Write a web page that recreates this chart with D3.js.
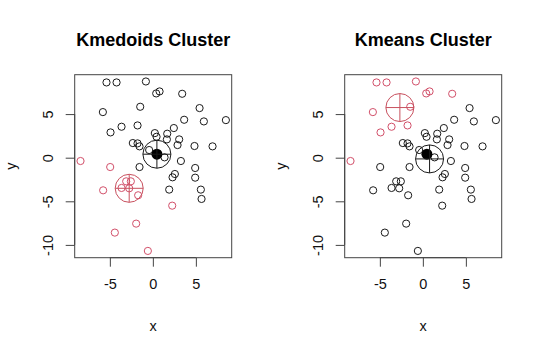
<!DOCTYPE html>
<html>
<head>
<meta charset="utf-8">
<script src="https://cdn.jsdelivr.net/npm/d3@7"></script>
<style>
  html, body { margin: 0; padding: 0; background: #fff; }
  svg { display: block; font-family: "Liberation Sans", Arial, Helvetica, sans-serif; }
</style>
</head>
<body>
<svg id="chart" width="540" height="351"></svg>
<script>
// ---- data ----
const xs = [-5.39,-4.22,-0.81,0.39,0.78,3.41,-5.81,-1.47,5.43,3.64,5.93,8.49,-4.92,-3.64,-1.78,2.44,0.23,0.43,1.67,1.63,3.06,2.87,-2.33,-1.78,-1.55,4.84,6.94,-0.43,1.36,3.26,-1.55,4.92,4.92,2.56,2.29,1.90,5.58,5.66,0.47,
            -8.41,-4.96,-5.78,-3.64,-3.10,-2.56,-2.75,-1.71,2.25,-1.94,-4.42,-0.58];
const ys = [8.63,8.63,8.74,7.37,7.60,7.33,5.23,5.84,5.69,4.35,4.16,4.31,2.90,3.55,3.70,3.40,2.82,2.40,2.75,2.10,2.10,1.45,1.68,1.64,1.30,1.34,1.30,0.88,0.04,-0.38,-1.07,-1.18,-2.29,-1.87,-2.25,-3.66,-3.66,-4.73,0.38,
            -0.38,-1.07,-3.74,-3.47,-2.71,-2.71,-3.51,-4.31,-5.50,-7.56,-8.59,-10.69];
// cluster labels: 1 = black, 2 = red
const kmedoidsCluster = [1,1,1,1,1,1,1,1,1,1,1,1,1,1,1,1,1,1,1,1,1,1,1,1,1,1,1,1,1,1,1,1,1,1,1,1,1,1,1,
                         2,2,2,2,2,2,2,2,2,2,2,2];
const kmeansCluster   = [2,2,2,2,2,2,2,2,1,1,1,1,2,2,2,1,1,1,1,1,1,1,1,1,1,1,1,1,1,1,1,1,1,1,1,1,1,1,1,
                         2,1,1,1,1,1,1,1,1,1,1,1];
const kmedoidsCenterX = [0.47, -2.75];
const kmedoidsCenterY = [0.40, -3.51];
const kmeansCenterX = [0.78, -2.67];
const kmeansCenterY = [-0.14, 5.75];
const filledX = [0.47];
const filledY = [0.40];
const titles = ["Kmedoids Cluster", "Kmeans Cluster"];
const xTicks = [-5, 0, 5];
const yTicks = [-10, -5, 0, 5];

const colors = {1: "#1a1a1a", 2: "#D2506A"};

// ---- layout ----
const svg = d3.select("#chart");
const panelLefts = [74.7, 344.7];
const plotTop = 74.7, plotW = 157, plotH = 183;

function padExtent(arr) {
  const [a, b] = d3.extent(arr);
  const p = (b - a) * 0.04;
  return [a - p, b + p];
}
const xDom = padExtent(xs), yDom = padExtent(ys);

const panels = [
  {title: titles[0], cl: kmedoidsCluster, cx: kmedoidsCenterX, cy: kmedoidsCenterY},
  {title: titles[1], cl: kmeansCluster, cx: kmeansCenterX, cy: kmeansCenterY}
];

panels.forEach((p, i) => {
  const left = panelLefts[i];
  const x = d3.scaleLinear().domain(xDom).range([left, left + plotW]);
  const y = d3.scaleLinear().domain(yDom).range([plotTop + plotH, plotTop]);
  const g = svg.append("g");

  // box
  g.append("rect").attr("x", left).attr("y", plotTop).attr("width", plotW).attr("height", plotH)
    .attr("fill", "none").attr("stroke", "#444").attr("stroke-width", 1);

  // x axis
  const xAx = g.append("g").attr("transform", `translate(0,${plotTop + plotH})`)
    .call(d3.axisBottom(x).tickValues(xTicks).tickSize(9).tickPadding(12).tickFormat(d3.format("d")));
  xAx.select(".domain").attr("d", `M${x(xTicks[0])},0H${x(xTicks[xTicks.length-1])}`).attr("stroke", "#444");
  xAx.selectAll(".tick line").attr("stroke", "#444");
  xAx.selectAll("text").attr("font-size", "14.5px").attr("fill", "#111")
     .attr("font-family", "Liberation Sans, Arial, sans-serif").text(d => d < 0 ? "-" + Math.abs(d) : d);

  // y axis
  const yAx = g.append("g").attr("transform", `translate(${left},0)`)
    .call(d3.axisLeft(y).tickValues(yTicks).tickSize(9).tickPadding(0).tickFormat(d3.format("d")));
  yAx.select(".domain").attr("d", `M0,${y(yTicks[0])}V${y(yTicks[yTicks.length-1])}`).attr("stroke", "#444");
  yAx.selectAll(".tick line").attr("stroke", "#444");
  yAx.selectAll("text").attr("font-size", "14.5px").attr("fill", "#111")
     .attr("font-family", "Liberation Sans, Arial, sans-serif")
     .attr("x", null).attr("dy", null)
     .attr("text-anchor", "middle")
     .attr("transform", `translate(-21.5,0) rotate(-90)`)
     .text(d => d < 0 ? "-" + Math.abs(d) : d);

  // axis titles
  g.append("text").attr("x", left + plotW / 2).attr("y", 331).attr("text-anchor", "middle")
    .attr("font-size", "14.5px").attr("fill", "#111").text("x");
  g.append("text").attr("transform", `translate(${left - 58.5},${plotTop + plotH / 2}) rotate(-90)`)
    .attr("text-anchor", "middle").attr("font-size", "14.5px").attr("fill", "#111").text("y");

  // title
  g.append("text").attr("x", left + plotW / 2).attr("y", 46).attr("text-anchor", "middle")
    .attr("font-size", "18px").attr("font-weight", "bold").attr("fill", "#000").text(p.title);

  // points
  g.selectAll("circle.pt").data(xs.map((v, k) => ({x: v, y: ys[k], c: p.cl[k]})))
    .join("circle").attr("class", "pt")
    .attr("cx", d => x(d.x)).attr("cy", d => y(d.y)).attr("r", 3.6)
    .attr("fill", "none").attr("stroke", d => colors[d.c]).attr("stroke-width", 1);

  // filled point
  g.selectAll("circle.filled").data(filledX.map((v, k) => ({x: v, y: filledY[k]})))
    .join("circle").attr("class", "filled")
    .attr("cx", d => x(d.x)).attr("cy", d => y(d.y)).attr("r", 5.5).attr("fill", "#000");

  // centers (circle with cross)
  const R = 14;
  p.cx.forEach((cxv, k) => {
    const cx = x(cxv), cy = y(p.cy[k]);
    const col = k === 0 ? "#1a1a1a" : "#C8505E";
    g.append("circle").attr("cx", cx).attr("cy", cy).attr("r", R)
      .attr("fill", "none").attr("stroke", col).attr("stroke-width", 1);
    g.append("line").attr("x1", cx - R).attr("x2", cx + R).attr("y1", cy).attr("y2", cy)
      .attr("stroke", col).attr("stroke-width", 1);
    g.append("line").attr("x1", cx).attr("x2", cx).attr("y1", cy - R).attr("y2", cy + R)
      .attr("stroke", col).attr("stroke-width", 1);
  });
});
</script>
</body>
</html>
